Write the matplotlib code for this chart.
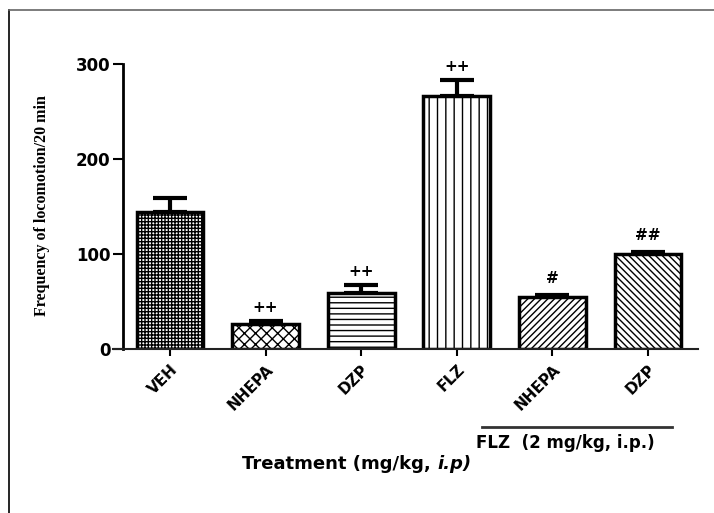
import matplotlib
matplotlib.use('Agg')
import matplotlib.pyplot as plt
from matplotlib.lines import Line2D

groups = ['VEH', 'NHEPA', 'DZP', 'FLZ', 'NHEPA', 'DZP']
means = [144, 26, 59, 266, 55, 100]
sems = [15, 3, 8, 17, 2, 2]
marks = ['', '++', '++', '++', '#', '##']
hatches = ['+++++', 'xxx', '---', '||', '/////', '\\\\\\\\\\']

plt.rcParams['font.family'] = ['DejaVu Sans']
plt.rcParams['hatch.linewidth'] = 1.0

fig = plt.figure(figsize=(7.14, 5.13), dpi=100)
W, H = 714, 513
ax = fig.add_axes([113 / W, 1 - 349 / H, (698 - 113) / W, (349 - 64) / H])

x = list(range(len(groups)))
ax.bar(x, means, width=0.7, color='white', edgecolor='black',
       linewidth=2.5, hatch=hatches, zorder=2)
ax.errorbar(x, means, yerr=[[0] * len(sems), sems], fmt='none',
            ecolor='black', elinewidth=3, capsize=12, capthick=3, zorder=1)

for xi, m, s, t in zip(x, means, sems, marks):
    if t:
        off = 12 if '#' in t else 10
        ax.annotate(t, (xi, m + s), xytext=(0, off), textcoords='offset points',
                    ha='center', va='center', fontsize=11, fontweight='bold')

ax.set_xlim(-0.596, 5.523)
ax.set_ylim(0, 300)
ax.spines['top'].set_visible(False)
ax.spines['right'].set_visible(False)
ax.spines['left'].set_position(('data', -0.49))
ax.spines['left'].set_linewidth(2)
ax.spines['bottom'].set_linewidth(1.5)
ax.spines['bottom'].set_color('#222222')
ax.spines['left'].set_bounds(0, 300)

ax.set_yticks([0, 100, 200, 300])
ax.set_yticklabels(['0', '100', '200', '300'], fontsize=12, fontweight='bold')
ax.tick_params(axis='y', length=7, width=1.5, pad=2)
ax.set_xticks(x)
ax.set_xticklabels(groups, rotation=45, ha='right', rotation_mode='anchor',
                   fontsize=11, fontweight='bold')
ax.tick_params(axis='x', length=5, width=1.5, pad=4)

fig.text(42 / W, 1 - 206 / H, 'Frequency of locomotion/20 min', rotation=90,
         ha='center', va='center', family='Liberation Serif',
         fontsize=11.5, fontweight='bold')

# FLZ group bracket
fig.add_artist(Line2D([482 / W, 672 / W], [1 - 427 / H, 1 - 427 / H],
                      color='#333333', lw=2))
fig.text(565 / W, 1 - 443 / H, 'FLZ  (2 mg/kg, i.p.)', ha='center', va='center',
         fontsize=12, fontweight='bold')

t1 = fig.text(242 / W, 1 - 464 / H, 'Treatment (mg/kg, ', ha='left', va='center',
              fontsize=13, fontweight='bold')
ax.annotate('i.p)', xy=(1, 0.5), xycoords=t1, ha='left', va='center',
            fontsize=13, fontweight='bold', fontstyle='italic')

# outer frame
fig.add_artist(Line2D([9 / W, 9 / W], [0, 1 - 10 / H], color='black', lw=1.2))
fig.add_artist(Line2D([9 / W, 1], [1 - 10 / H, 1 - 10 / H], color='#666666', lw=1.2))

fig.savefig('out.png', dpi=100)
